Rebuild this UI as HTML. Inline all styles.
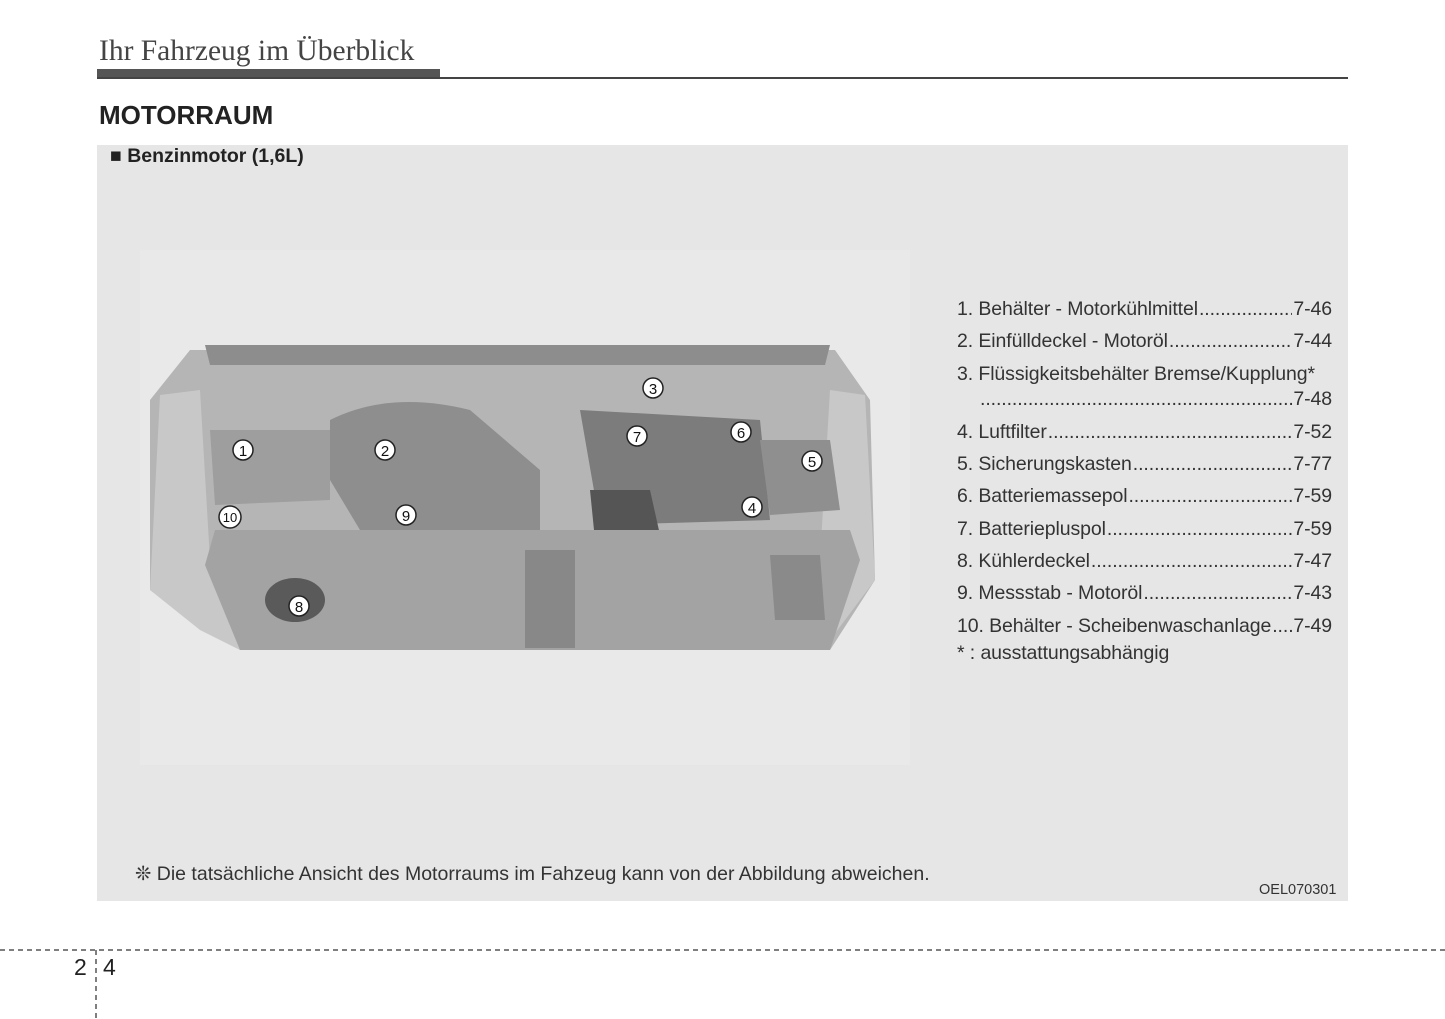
<!DOCTYPE html>
<html><head><meta charset="utf-8"><style>
body{margin:0;width:1445px;height:1019px;background:#fff;position:relative;overflow:hidden;font-family:"Liberation Sans",sans-serif;color:#222}
.a{position:absolute;white-space:nowrap}
.li{position:absolute;left:957px;font-size:19.5px;color:#333;width:375px;display:flex;letter-spacing:-0.1px}
.li .d{flex:1;overflow:hidden;margin:0 1px}
.li .d:after{content:"................................................................................................................"}
</style></head><body>
<div class="a" style="left:99px;top:35px;font-family:'Liberation Serif',serif;font-size:29.5px;color:#444">Ihr Fahrzeug im Überblick</div>
<div class="a" style="left:97px;top:69px;width:343px;height:9px;background:#555"></div>
<div class="a" style="left:97px;top:77px;width:1251px;height:2px;background:#444"></div>
<div class="a" style="left:99px;top:100px;font-size:26px;font-weight:bold;color:#222">MOTORRAUM</div>
<div class="a" style="left:97px;top:145px;width:1251px;height:756px;background:#e6e6e7"></div>
<div class="a" style="left:110px;top:145px;font-size:19.5px;font-weight:bold;color:#222">■ Benzinmotor (1,6L)</div>
<div class="a" style="left:140px;top:250px;width:770px;height:515px;background:#e9e9ea"></div>
<svg class="a" style="left:0;top:0" width="1445" height="1019">
<path d="M190 350 L835 350 L870 400 L875 580 L830 650 L240 650 L150 590 L150 400 Z" fill="#b5b5b6"/>
<path d="M205 345 L830 345 L825 365 L210 365Z" fill="#8d8d8e"/>
<path d="M160 395 L200 390 L210 560 L240 650 L200 630 L150 590Z" fill="#c8c8c9"/>
<path d="M865 395 L830 390 L820 560 L800 645 L830 640 L875 580Z" fill="#c8c8c9"/>
<path d="M330 420 Q390 390 470 410 L540 470 L540 530 L360 530 L330 480Z" fill="#8e8e8f"/>
<path d="M580 410 L760 420 L770 520 L600 525Z" fill="#7c7c7d"/>
<path d="M590 490 L650 490 L660 535 L595 540Z" fill="#555"/>
<path d="M760 440 L830 440 L840 510 L770 515Z" fill="#8f8f90"/>
<path d="M210 430 L330 430 L330 500 L215 505Z" fill="#9e9e9f"/>
<path d="M215 530 L850 530 L860 560 L830 650 L240 650 L205 565Z" fill="#a3a3a4"/>
<path d="M525 550 L575 550 L575 648 L525 648Z" fill="#888889"/>
<path d="M770 555 L820 555 L825 620 L775 620Z" fill="#8a8a8b"/>
<ellipse cx="295" cy="600" rx="30" ry="22" fill="#5a5a5b"/>
<g fill="#fff" stroke="#222" stroke-width="1.5">
<circle cx="243" cy="450" r="10"/><circle cx="385" cy="450" r="10"/><circle cx="653" cy="388" r="10"/>
<circle cx="752" cy="507" r="10"/><circle cx="812" cy="461" r="10"/><circle cx="741" cy="432" r="10"/>
<circle cx="637" cy="436" r="10"/><circle cx="299" cy="606" r="10"/><circle cx="406" cy="515" r="10"/><circle cx="230" cy="517" r="11"/>
</g>
<g fill="#111" font-family="Liberation Sans" font-size="15" text-anchor="middle">
<text x="243" y="456">1</text><text x="385" y="456">2</text><text x="653" y="394">3</text><text x="752" y="513">4</text>
<text x="812" y="467">5</text><text x="741" y="438">6</text><text x="637" y="442">7</text><text x="299" y="612">8</text>
<text x="406" y="521">9</text><text x="230" y="522" font-size="13">10</text>
</g>
<line x1="0" y1="950" x2="1445" y2="950" stroke="#555" stroke-width="1.5" stroke-dasharray="5,4"/>
<line x1="96" y1="950" x2="96" y2="1019" stroke="#555" stroke-width="1.5" stroke-dasharray="5,4"/>
</svg>
<div class="li" style="top:298px"><span>1. Behälter - Motorkühlmittel</span><span class="d"></span><span>7-46</span></div>
<div class="li" style="top:330px"><span>2. Einfülldeckel - Motoröl</span><span class="d"></span><span>7-44</span></div>
<div class="li" style="top:363px"><span>3. Flüssigkeitsbehälter Bremse/Kupplung*</span></div>
<div class="li" style="top:388px"><span style="width:22px"></span><span class="d"></span><span>7-48</span></div>
<div class="li" style="top:421px"><span>4. Luftfilter</span><span class="d"></span><span>7-52</span></div>
<div class="li" style="top:453px"><span>5. Sicherungskasten</span><span class="d"></span><span>7-77</span></div>
<div class="li" style="top:485px"><span>6. Batteriemassepol</span><span class="d"></span><span>7-59</span></div>
<div class="li" style="top:518px"><span>7. Batteriepluspol</span><span class="d"></span><span>7-59</span></div>
<div class="li" style="top:550px"><span>8. Kühlerdeckel</span><span class="d"></span><span>7-47</span></div>
<div class="li" style="top:582px"><span>9. Messstab - Motoröl</span><span class="d"></span><span>7-43</span></div>
<div class="li" style="top:615px"><span>10. Behälter - Scheibenwaschanlage</span><span class="d"></span><span>7-49</span></div>
<div class="li" style="top:642px"><span>* : ausstattungsabhängig</span></div>
<div class="a" style="left:135px;top:862px;font-size:19.5px;color:#333">❊ Die tatsächliche Ansicht des Motorraums im Fahzeug kann von der Abbildung abweichen.</div>
<div class="a" style="left:1259px;top:882px;font-size:14.5px;color:#333">OEL070301</div>
<div class="a" style="left:74px;top:954px;font-size:23px;color:#222">2</div>
<div class="a" style="left:103px;top:954px;font-size:23px;color:#222">4</div>
</body></html>
